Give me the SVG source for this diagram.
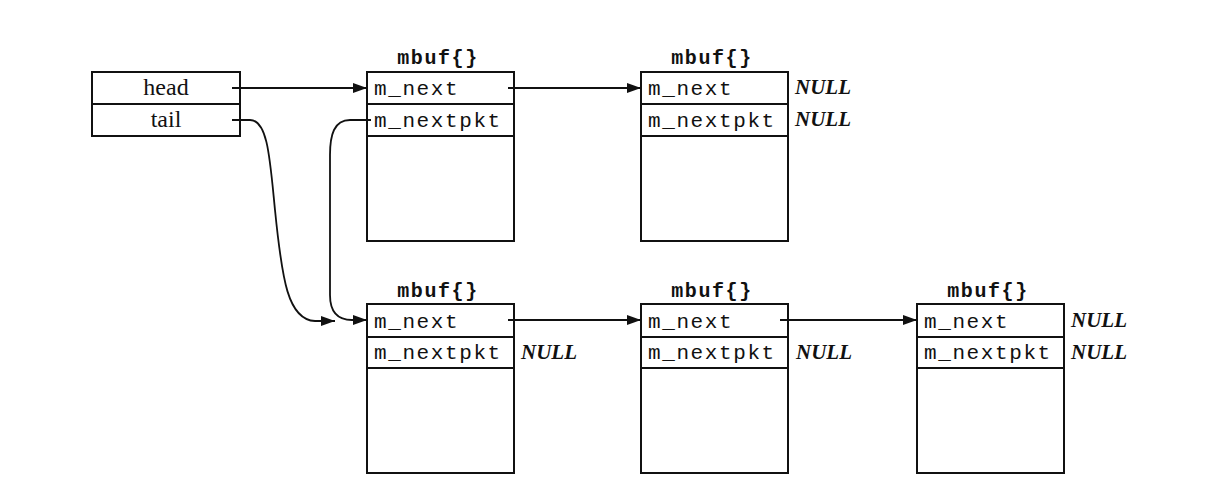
<svg xmlns="http://www.w3.org/2000/svg" width="1229" height="494" viewBox="0 0 1229 494">
<style>
.box{fill:#fff;stroke:#111;stroke-width:2}
.ln{fill:none;stroke:#111;stroke-width:1.8}
.f{font-family:"Liberation Mono","DejaVu Sans Mono",monospace;font-size:21px;letter-spacing:1.6px;fill:#111}
.t{font-family:"Liberation Mono","DejaVu Sans Mono",monospace;font-size:20px;font-weight:bold;letter-spacing:1.6px;fill:#111;text-anchor:middle}
.s{font-family:"Liberation Serif","Times New Roman",serif;font-size:24px;fill:#111;text-anchor:middle}
.n{font-family:"Liberation Serif","Times New Roman",serif;font-size:21px;font-style:italic;font-weight:bold;fill:#111}
</style>
<defs>
<marker id="ah" viewBox="0 0 14 10" refX="14" refY="5" markerWidth="14" markerHeight="10" markerUnits="userSpaceOnUse" orient="auto">
<path d="M0,0 L14,5 L0,10 Z" fill="#111"/>
</marker>
</defs>
<rect width="1229" height="494" fill="#fff"/>
<g id="queue">
<rect class="box" x="92" y="72" width="148" height="64"/>
<line class="ln" x1="92" y1="104" x2="240" y2="104"/>
<text class="s" x="166" y="95">head</text>
<text class="s" x="166" y="127">tail</text>
</g>
<g id="mbuf1">
<text class="t" x="438" y="64">mbuf{}</text>
<rect class="box" x="367" y="72" width="147" height="169"/>
<line class="ln" x1="367" y1="104" x2="514" y2="104"/>
<line class="ln" x1="367" y1="136" x2="514" y2="136"/>
<text class="f" x="374" y="95">m_next</text>
<text class="f" x="374" y="127">m_nextpkt</text>
</g>
<g id="mbuf2">
<text class="t" x="712" y="64">mbuf{}</text>
<rect class="box" x="641" y="72" width="147" height="169"/>
<line class="ln" x1="641" y1="104" x2="788" y2="104"/>
<line class="ln" x1="641" y1="136" x2="788" y2="136"/>
<text class="f" x="648" y="95">m_next</text>
<text class="f" x="648" y="127">m_nextpkt</text>
<text class="n" x="795" y="94">NULL</text>
<text class="n" x="795" y="126">NULL</text>
</g>
<g id="mbuf3">
<text class="t" x="438" y="297">mbuf{}</text>
<rect class="box" x="367" y="304" width="147" height="169"/>
<line class="ln" x1="367" y1="337" x2="514" y2="337"/>
<line class="ln" x1="367" y1="368" x2="514" y2="368"/>
<text class="f" x="374" y="328">m_next</text>
<text class="f" x="374" y="359">m_nextpkt</text>
<text class="n" x="521" y="359">NULL</text>
</g>
<g id="mbuf4">
<text class="t" x="712" y="297">mbuf{}</text>
<rect class="box" x="641" y="304" width="147" height="169"/>
<line class="ln" x1="641" y1="337" x2="788" y2="337"/>
<line class="ln" x1="641" y1="368" x2="788" y2="368"/>
<text class="f" x="648" y="328">m_next</text>
<text class="f" x="648" y="359">m_nextpkt</text>
<text class="n" x="796" y="359">NULL</text>
</g>
<g id="mbuf5">
<text class="t" x="988" y="297">mbuf{}</text>
<rect class="box" x="917" y="304" width="147" height="169"/>
<line class="ln" x1="917" y1="337" x2="1064" y2="337"/>
<line class="ln" x1="917" y1="368" x2="1064" y2="368"/>
<text class="f" x="924" y="328">m_next</text>
<text class="f" x="924" y="359">m_nextpkt</text>
<text class="n" x="1071" y="327">NULL</text>
<text class="n" x="1071" y="359">NULL</text>
</g>
<g id="connectors">
<line class="ln" x1="232" y1="88" x2="367" y2="88" marker-end="url(#ah)"/>
<line class="ln" x1="508" y1="88" x2="641" y2="88" marker-end="url(#ah)"/>
<line class="ln" x1="508" y1="320" x2="641" y2="320" marker-end="url(#ah)"/>
<line class="ln" x1="780" y1="320" x2="917" y2="320" marker-end="url(#ah)"/>
<path class="ln" d="M232,120 L250,120 C268,120 270,160 275,210 C282,280 288,320 315,321 L335,321" marker-end="url(#ah)"/>
<path class="ln" d="M371,120 L350,120 C334,120 330,135 330,155 L330,295 C330,315 340,320 352,320 L367,320" marker-end="url(#ah)"/>
</g>
</svg>
